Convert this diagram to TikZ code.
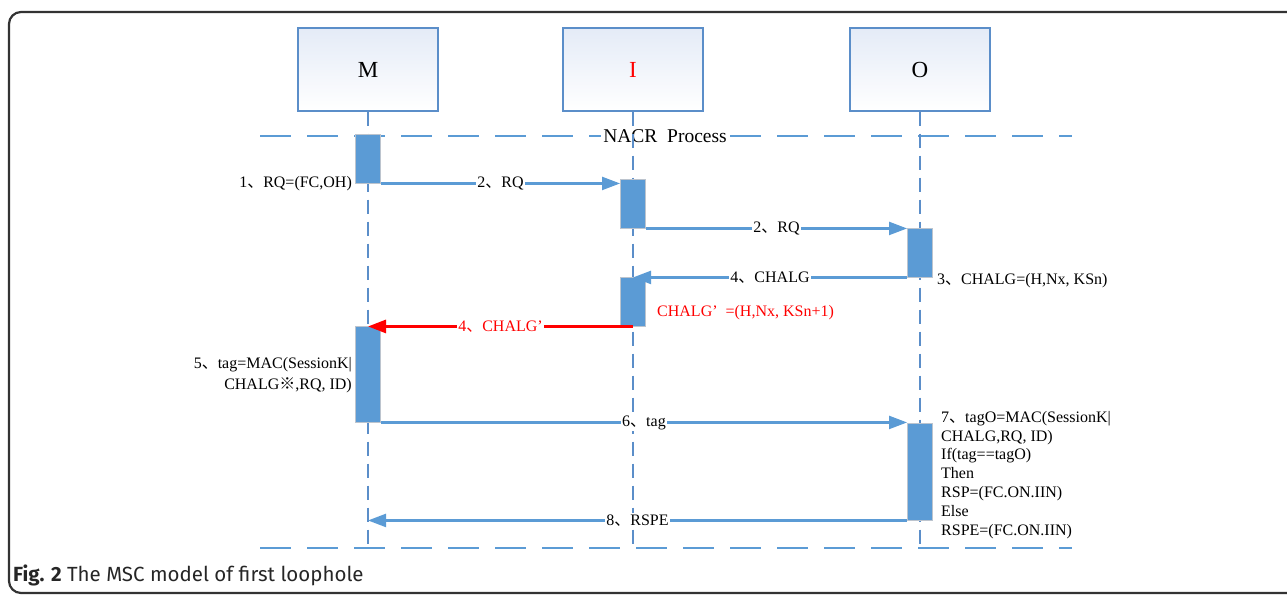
\documentclass[tikz,border=0pt]{standalone}
\usepackage{fontspec}
\setmainfont{Liberation Serif}
\newfontfamily\cjk{Noto Sans CJK SC}
\newfontfamily\capfont{Fira Sans}
\usepackage{xcolor}
\usetikzlibrary{positioning,arrows.meta}

\definecolor{mscblue}{HTML}{5B9BD5}
\definecolor{boxline}{HTML}{5B8EC9}
\definecolor{boxtint}{HTML}{E4EBF7}
\definecolor{barline}{HTML}{BCC4CE}
\newcommand{\dun}{{\cjk 、}}

\begin{document}
\begin{tikzpicture}[
		x=1pt, y=-1pt,
		font=\fontsize{16}{19}\selectfont,
		entity/.style={
			draw=boxline,
			line width=1.4pt,
			top color=boxtint,
			bottom color=white,
			minimum width=140pt,
			minimum height=83pt,
			inner sep=0pt,
			font=\fontsize{23}{25}\selectfont
		},
		actbar/.style={draw=barline, line width=0.9pt, fill=mscblue, minimum width=25pt, inner sep=0pt},
		lifeline/.style={boxline, line width=1.5pt, dash pattern=on 14pt off 8pt},
		framedash/.style={mscblue, line width=1.8pt, dash pattern=on 31pt off 16pt},
		msg/.style={mscblue, line width=2.2pt, -{Triangle[length=18pt,width=13pt]}},
		fakemsg/.style={red, line width=2.8pt, -{Triangle[length=18pt,width=13pt]}},
		msglabel/.style={midway, fill=white, text=black, inner sep=1.5pt},
		note/.style={align=left, inner sep=0pt}
	]
		\clip (0,0) rectangle (1287,594);
		\draw[black!80, line width=2.2pt, rounded corners=12pt] (9,12) rectangle (1320,593);

		% entities
		\node[entity] (M) at (368,69.5) {M};
		\node[entity, text=red] (I) at (633,69.5) {I};
		\node[entity] (O) at (920,69.5) {O};

		% process frame
		\coordinate (ftopL) at (260,136);
		\coordinate (ftopR) at (1072,136);
		\coordinate (fbotL) at (260,548);
		\coordinate (fbotR) at (1072,548);
		\draw[framedash] (ftopL) -- (ftopR);
		\draw[framedash] (fbotL) -- (fbotR);
		\node[fill=white, inner sep=2pt, font=\fontsize{19.5}{21}\selectfont] (nacr) at (665,136) {NACR\ \ Process};

		% lifelines
		\draw[lifeline] (M.south) -- (M |- fbotL);
		\draw[lifeline] (I.south) -- (I |- fbotL);
		\draw[lifeline] (O.south) -- (O |- fbotL);

		% activation bars
		\node[actbar, minimum height=49pt] (actMa) at (368,158.5) {};
		\node[actbar, minimum height=49pt] (actIa) at (633,203.5) {};
		\node[actbar, minimum height=49pt] (actOa) at (920,252.5) {};
		\node[actbar, minimum height=49pt] (actIb) at (633,301.5) {};
		\node[actbar, minimum height=96pt] (actMb) at (368,374) {};
		\node[actbar, minimum height=97pt] (actOb) at (920,471.5) {};

		% messages
		\draw[msg] (actMa.south east) -- (actMa.south east -| actIa.west) node[msglabel] {2\dun RQ};
		\draw[msg] (actIa.south east) -- (actIa.south east -| actOa.west) node[msglabel] {2\dun RQ};
		\draw[msg] (actOa.south west) -- (actOa.south west -| actIb.north) node[msglabel] {4\dun CHALG};
		\draw[fakemsg] (actIb.south) -- (actIb.south -| actMb.north) node[msglabel, text=red] {4\dun CHALG\char"0027};
		\draw[msg] (actMb.south east) -- (actMb.south east -| actOb.west) node[msglabel] {6\dun tag};
		\draw[msg] (actOb.south west) -- (actOb.south west -| M) node[msglabel] {8\dun RSPE};

		% notes
		\node[note, left=3pt of actMa.south west] (rqnote) {1\dun RQ=(FC,OH)};
		\node[note, right=4pt of actOa.south east, yshift=-3pt] (chalgnote) {3\dun CHALG=(H,Nx, KSn)};
		\node[note, anchor=west, text=red] (fakenote) at (657,313) {CHALG\textquoteright\ \ =(H,Nx, KSn+1)};
		\node[note, align=right, anchor=east, font=\fontsize{16}{21}\selectfont] (tagnote) at (352,375) {5\dun tag=MAC(SessionK|\\CHALG{\cjk ※},RQ, ID)};
		\node[note, anchor=north west, font=\fontsize{16}{18.8}\selectfont] (checknote) at (941,411) {7\dun tagO=MAC(SessionK|\\CHALG,RQ, ID)\\If(tag==tagO)\\Then\\RSP=(FC.ON.IIN)\\Else\\RSPE=(FC.ON.IIN)};

		\node[anchor=west, inner sep=0pt, text=black!85, font=\capfont\fontsize{20.5}{22}\selectfont] (caption) at (13,575) {\textbf{Fig. 2} The MSC model of first loophole};
	\end{tikzpicture}
\end{document}
